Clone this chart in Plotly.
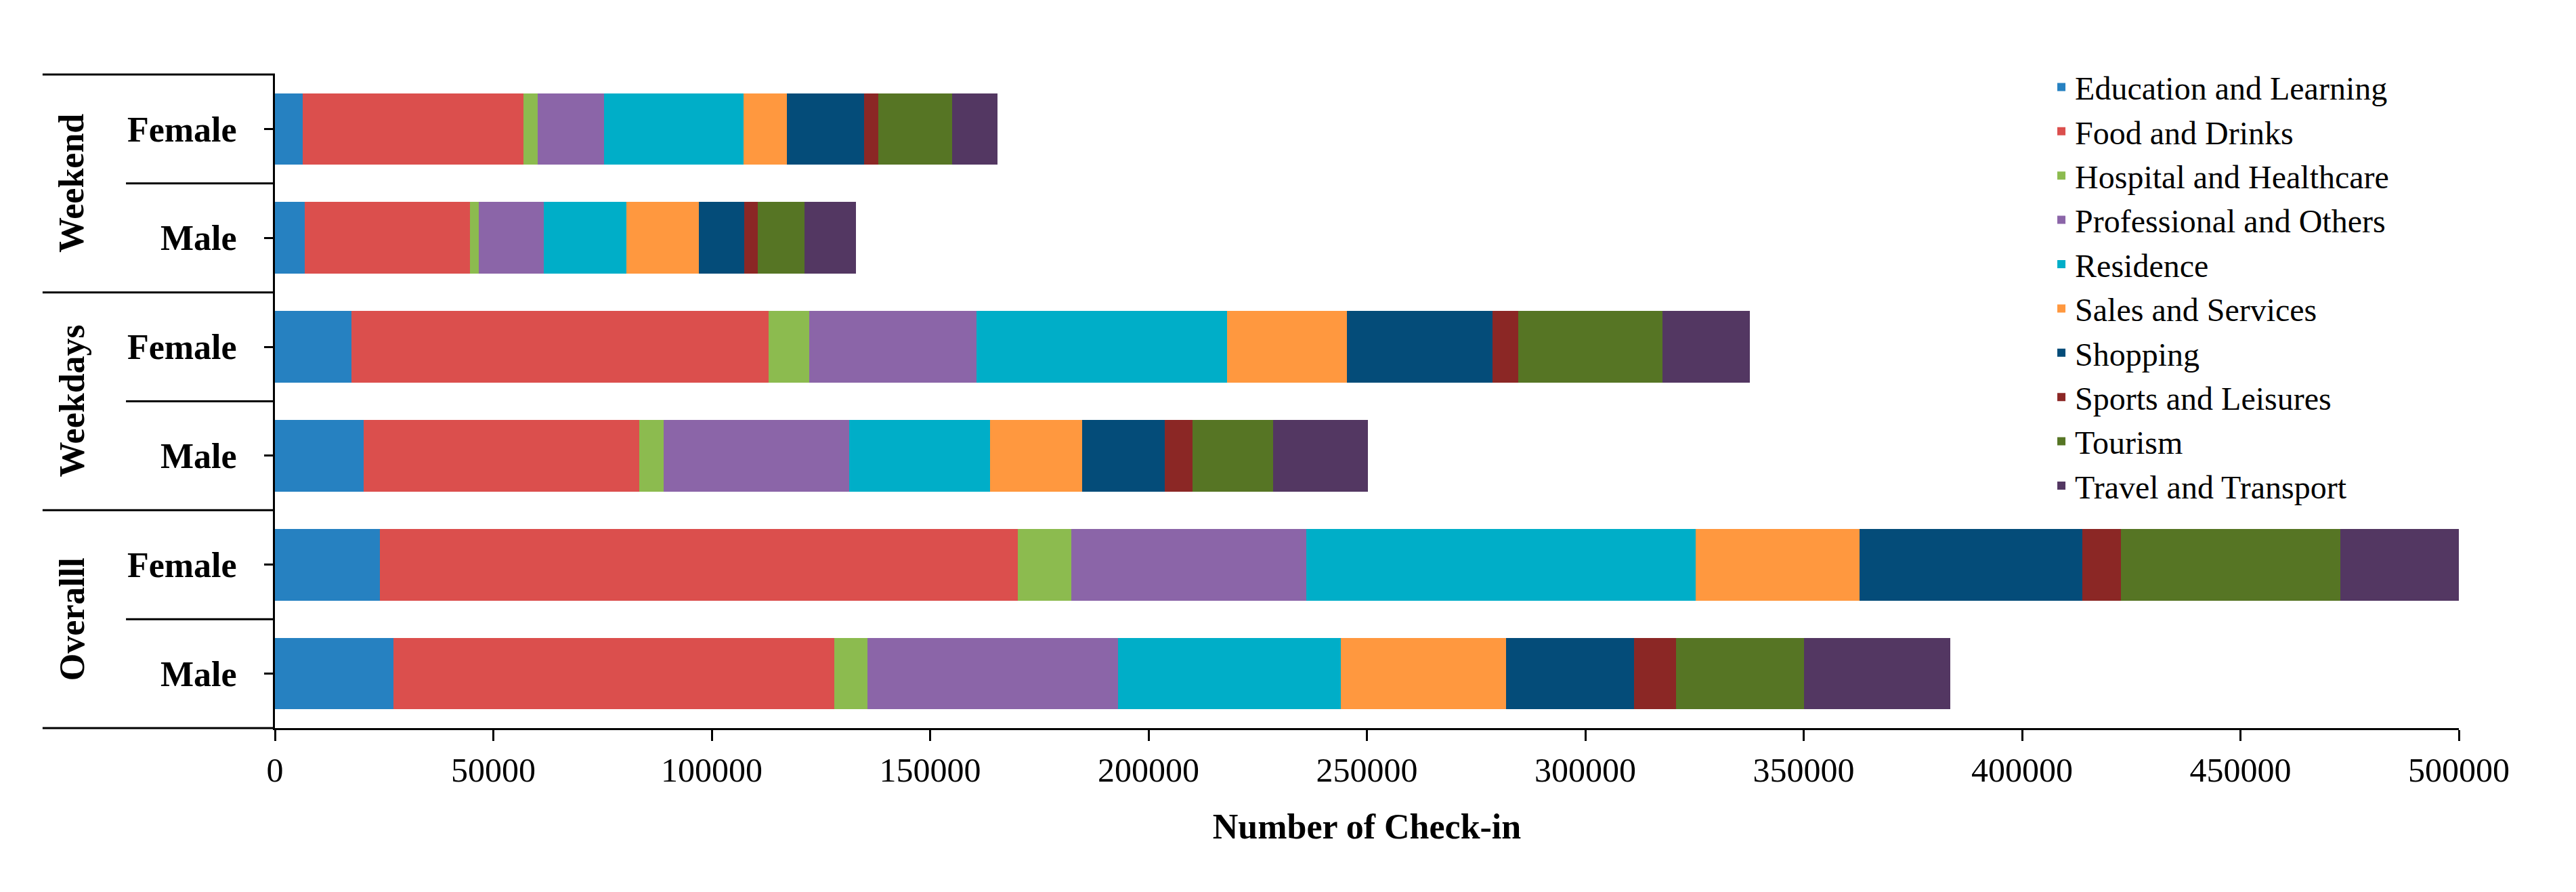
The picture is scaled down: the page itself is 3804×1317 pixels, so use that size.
import plotly.graph_objects as go

# ---------------- data ----------------
groups = ["Weekend", "Weekend", "Weekdays", "Weekdays", "Overalll", "Overalll"]
genders = ["Female", "Male", "Female", "Male", "Female", "Male"]

categories = [
    "Education and Learning", "Food and Drinks", "Hospital and Healthcare",
    "Professional and Others", "Residence", "Sales and Services", "Shopping",
    "Sports and Leisures", "Tourism", "Travel and Transport",
]

# values per row (Weekend F, Weekend M, Weekdays F, Weekdays M, Overall F, Overall M)
education    = [6400, 6800, 17500, 20300, 24000, 27100]
food         = [50500, 37900, 95500, 63100, 146000, 101000]
hospital     = [3200, 1900, 9400, 5650, 12300, 7500]
professional = [15300, 14900, 38200, 42400, 53800, 57400]
residence    = [31900, 18900, 57400, 32200, 89200, 51100]
sales        = [9900, 16600, 27500, 21200, 37500, 37700]
shopping     = [17700, 10400, 33300, 18900, 51000, 29400]
sports       = [3200, 3100, 5900, 6300, 8800, 9600]
tourism      = [17000, 10700, 33000, 18500, 50300, 29200]
travel       = [10300, 11800, 20000, 21700, 27300, 33500]

series = [education, food, hospital, professional, residence,
          sales, shopping, sports, tourism, travel]

colors = ["#2681C1", "#DB4F4D", "#8CBB4F", "#8B65A8", "#00AEC8",
          "#FF983F", "#044C79", "#8B2725", "#567524", "#533762"]

x_ticks = list(range(0, 500001, 50000))

# ---------------- figure ----------------
FONT = "Liberation Serif"
row_ids = [f"{g} {s}" for g, s in zip(groups, genders)]
n = len(row_ids)

fig = go.Figure()
for name, vals, col in zip(categories, series, colors):
    fig.add_trace(go.Bar(
        name=name, x=vals, y=row_ids, orientation="h",
        marker=dict(color=col, line=dict(width=0)),
    ))

# group separators / labels on the left side
L_OUT = -0.1064
L_IN = -0.0682
shapes = [dict(type="line", xref="paper", yref="paper", x0=L_OUT, x1=0, y0=1, y1=1,
               line=dict(color="black", width=3)),
          dict(type="line", xref="paper", yref="paper", x0=L_OUT, x1=0, y0=0, y1=0,
               line=dict(color="black", width=3))]
for i in range(n - 1):
    yb = 1 - (i + 1) / n
    x0 = L_OUT if groups[i] != groups[i + 1] else L_IN
    shapes.append(dict(type="line", xref="paper", yref="paper", x0=x0, x1=0,
                       y0=yb, y1=yb, line=dict(color="black", width=3)))

annotations = []
seen = []
for g in groups:
    if g not in seen:
        seen.append(g)
for g in seen:
    idx = [i for i, gg in enumerate(groups) if gg == g]
    mid = (idx[0] + idx[-1]) / 2
    annotations.append(dict(
        text=g, xref="paper", yref="paper", x=-0.093, y=1 - (mid + 0.5) / n,
        xanchor="center", yanchor="middle", textangle=-90, showarrow=False,
        font=dict(family=FONT, size=52, color="black", weight="bold"),
    ))

fig.update_layout(
    width=3804, height=1317,
    margin=dict(l=398, r=181, t=102, b=250),
    barmode="stack", bargap=0.343,
    plot_bgcolor="white", paper_bgcolor="white",
    font=dict(family=FONT, color="black"),
    shapes=shapes, annotations=annotations,
    legend=dict(
        x=0.8118, y=1.02, xanchor="left", yanchor="top", maxheight=1000,
        traceorder="normal", bgcolor="rgba(0,0,0,0)",
        font=dict(family=FONT, size=48, color="black"),
    ),
    xaxis=dict(
        range=[0, 500000], tickvals=x_ticks, tickformat="d",
        showline=True, linewidth=3, linecolor="black",
        ticks="outside", ticklen=16, tickwidth=3, tickcolor="black",
        showgrid=False, zeroline=False,
        tickfont=dict(family=FONT, size=50, color="black"),
        ticklabelstandoff=0,
        title=dict(text="Number of Check-in", standoff=38,
                   font=dict(family=FONT, size=52, color="black", weight="bold")),
    ),
    yaxis=dict(
        type="category", categoryorder="array", categoryarray=row_ids,
        range=[n - 0.5, -0.5],
        tickmode="array", tickvals=row_ids, ticktext=genders,
        showline=True, linewidth=3, linecolor="black",
        ticks="outside", ticklen=13, tickwidth=3, tickcolor="black",
        showgrid=False, zeroline=False,
        tickfont=dict(family=FONT, size=52, color="black", weight="bold"),
        ticklabelstandoff=30,
    ),
)

fig.write_html("out.html")
